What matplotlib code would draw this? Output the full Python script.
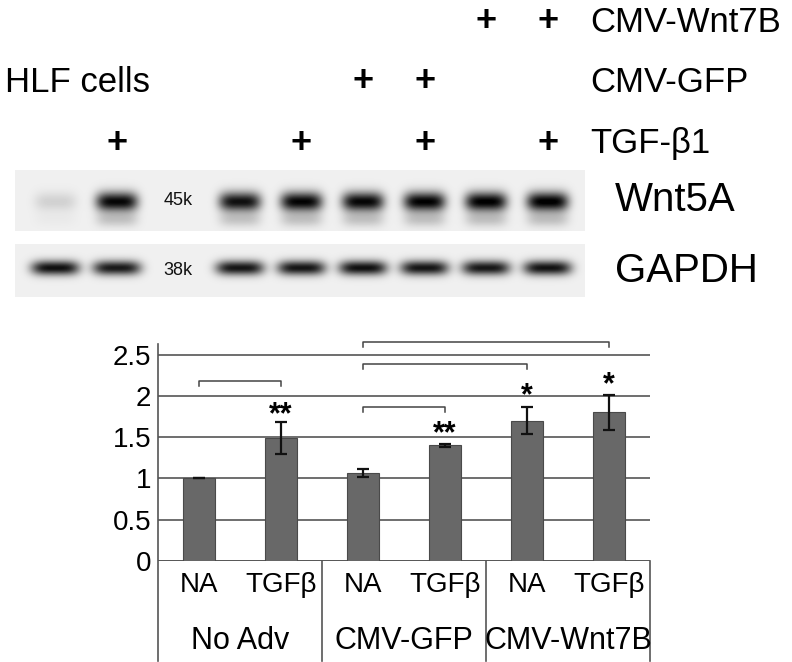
import matplotlib
matplotlib.use("Agg")
import matplotlib.pyplot as plt
import matplotlib.transforms as mtransforms
import numpy as np

plt.rcParams["font.family"] = ["Liberation Sans", "DejaVu Sans"]

# ---- western blot data ----
lane_slot = [0, 1, 3, 4, 5, 6, 7, 8]
tgf = [0, 1, 0, 1, 0, 1, 0, 1]
gfp = [0, 0, 0, 0, 1, 1, 0, 0]
wnt7b = [0, 0, 0, 0, 0, 0, 1, 1]
row_names = ["CMV-Wnt7B", "CMV-GFP", "TGF-β1"]
wnt5a_band = [0.12, 0.92, 0.88, 0.93, 0.92, 0.94, 0.95, 0.96]
gapdh_band = [0.88, 0.84, 0.86, 0.86, 0.88, 0.86, 0.85, 0.87]
marker_labels = ["45k", "38k"]
blot_names = ["Wnt5A", "GAPDH"]

# ---- bar chart data ----
conditions = ["NA", "TGFβ", "NA", "TGFβ", "NA", "TGFβ"]
groups = ["No Adv", "CMV-GFP", "CMV-Wnt7B"]
values = [1.0, 1.49, 1.07, 1.40, 1.70, 1.80]
errors = [0.0, 0.19, 0.05, 0.02, 0.165, 0.21]
brackets = [(0, 1, 2.18), (2, 3, 1.87), (2, 4, 2.39), (2, 5, 2.65)]
stars = [(1, "**", 1.87), (3, "**", 1.64), (4, "*", 2.10), (5, "*", 2.23)]
yticks = [0, 0.5, 1, 1.5, 2, 2.5]

W, H = 792, 662
fig = plt.figure(figsize=(W / 100, H / 100), dpi=100)


def px_axes(left, top, width, height):
    return fig.add_axes([left / W, 1 - (top + height) / H, width / W, height / H])


def blot_image(intens, x, y, sx, yc, sy, tail):
    X, Y = np.meshgrid(x, y)
    img = np.full(X.shape, 0.06)
    for s, a in zip(lane_slot, intens):
        prof = np.exp(-np.abs((X - s) / sx) ** 4)
        img += a * prof * np.exp(-((Y - yc) / sy) ** 2)
        img += tail * a * prof * np.exp(-((Y - yc - 0.3) / 0.12) ** 2)
    return np.clip(img, 0, 1)


xlim = (-0.65, 8.6)
panels = [(170, 61, wnt5a_band, 0.34, 0.52, 0.16, 0.18),
          (244, 53, gapdh_band, 0.39, 0.45, 0.14, 0.0)]
blot_axes = []
for (top, h, intens, sx, yc, sy, tail), mk, name in zip(panels, marker_labels, blot_names):
    ax = px_axes(15, top, 570, h)
    x = np.linspace(xlim[0], xlim[1], 570)
    y = np.linspace(0, 1, h)
    ax.imshow(blot_image(intens, x, y, sx, yc, sy, tail), cmap="gray_r", vmin=0, vmax=1,
              extent=(xlim[0], xlim[1], 1, 0), aspect="auto", interpolation="bilinear")
    ax.set_xlim(*xlim)
    ax.set_ylim(1, 0)
    ax.axis("off")
    ax.text(2, 0.5, mk, ha="center", va="center", fontsize=13, color="#111111")
    fig.text(615 / W, 1 - (top + h / 2) / H, name, ha="left", va="center", fontsize=29)
    blot_axes.append(ax)

# plus signs above lanes
trans = mtransforms.blended_transform_factory(blot_axes[0].transData, fig.transFigure)
row_y = [22, 82, 143]
for flags, ry, name in zip([wnt7b, gfp, tgf], row_y, row_names):
    for s, f in zip(lane_slot, flags):
        if f:
            fig.text(s, 1 - ry / H, "+", transform=trans, ha="center", va="center",
                     fontsize=26, fontweight="bold")
    fig.text(590 / W, 1 - ry / H, name, ha="left", va="center", fontsize=25)
fig.text(5 / W, 1 - 82 / H, "HLF cells", ha="left", va="center", fontsize=25)

# ---- bar chart ----
ax = px_axes(158, 344, 492, 217)
x = np.arange(len(values))
ax.bar(x, values, width=0.4, color="#686868", edgecolor="#4a4a4a", linewidth=0.8, zorder=3)
ax.errorbar(x, values, yerr=errors, fmt="none", ecolor="#111111", elinewidth=1.6,
            capsize=4, capthick=1.6, zorder=4)
ax.set_xlim(-0.5, 5.5)
ax.set_ylim(0, 2.63)
ax.set_yticks(yticks)
ax.set_yticklabels(["0", "0.5", "1", "1.5", "2", "2.5"], fontsize=20)
ax.set_xticks([])
ax.tick_params(axis="y", length=0, pad=5)
ax.yaxis.grid(True, color="#555555", linewidth=1.2, zorder=0)
for sp in ax.spines.values():
    sp.set_visible(False)
ax.axhline(0, color="#555555", linewidth=1.2, zorder=2)

bt = mtransforms.blended_transform_factory(ax.transData, ax.transAxes)
ax.plot([-0.5, -0.5], [1.0, -0.46], transform=bt, color="#555555", lw=1.2, clip_on=False)
for xd in [1.5, 3.5, 5.5]:
    ax.plot([xd, xd], [0, -0.46], transform=bt, color="#555555", lw=1.2, clip_on=False)
for xi, c in zip(x, conditions):
    ax.text(xi, -0.11, c, transform=bt, ha="center", va="center", fontsize=20)
for gi, g in enumerate(groups):
    ax.text(2 * gi + 0.5, -0.37, g, transform=bt, ha="center", va="center", fontsize=22)

for i, j, yb in brackets:
    ax.plot([i, i, j, j], [yb - 0.06, yb, yb, yb - 0.06], color="#444444", lw=1.1,
            clip_on=False)
for i, s, ys in stars:
    ax.text(i, ys - 0.2, s, ha="center", va="baseline", fontsize=22, fontweight="bold",
            clip_on=False)

fig.savefig("out.png", dpi=100)
